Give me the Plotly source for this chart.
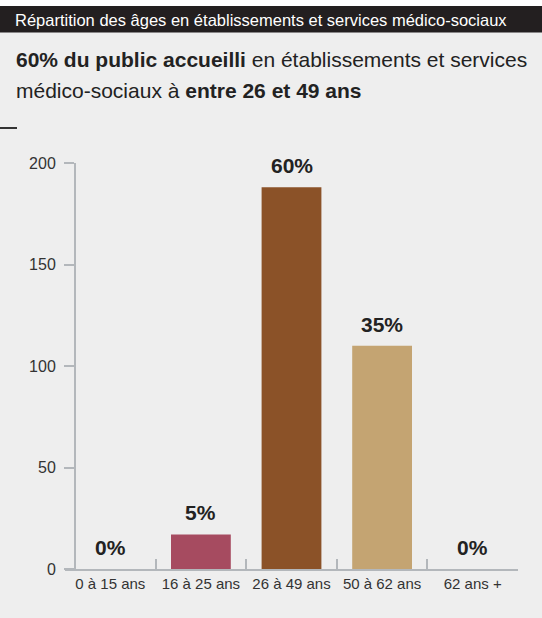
import plotly.graph_objects as go

categories = ["0 à 15 ans", "16 à 25 ans", "26 à 49 ans", "50 à 62 ans", "62 ans +"]
values = [0, 17, 188, 110, 0]
pct_labels = ["0%", "5%", "60%", "35%", "0%"]
bar_colors = ["#a64b60", "#a64b60", "#8b5228", "#c4a472", "#c4a472"]
y_ticks = [0, 50, 100, 150, 200]

header_text = "Répartition des âges en établissements et services médico-sociaux"
title_lines = [
    "<b>60% du public accueilli</b> en établissements et services",
    "médico-sociaux à <b>entre 26 et 49 ans</b>",
]

FONT = "Liberation Sans, Arial, Helvetica, sans-serif"
BG = "#eeeeee"
AXIS = "#b3b7bb"

W, H = 542, 618
ml, mr, mt, mb = 65, 24, 163, 49
plot_w = W - ml - mr
ph = H - mt - mb


def px_x(x):
    return (x - ml) / plot_w


def px_y(y):
    return 1 + (mt - y) / ph


fig = go.Figure()
fig.add_trace(go.Bar(
    x=categories, y=values,
    marker=dict(color=bar_colors, line=dict(width=0)),
    width=0.66,
    hoverinfo="skip",
))

for cat, v, lab in zip(categories, values, pct_labels):
    fig.add_annotation(
        x=cat, y=v, xref="x", yref="y", text=f"<b>{lab}</b>",
        showarrow=False, yanchor="bottom", yshift=8,
        font=dict(family=FONT, size=21, color="#222222"),
    )

# header bar
fig.add_shape(type="rect", xref="paper", yref="paper",
              x0=px_x(0), x1=px_x(W), y0=px_y(32.5), y1=px_y(6),
              fillcolor="#231f20", line=dict(width=0), layer="below")
fig.add_shape(type="rect", xref="paper", yref="paper",
              x0=px_x(0), x1=px_x(W), y0=px_y(6), y1=px_y(0),
              fillcolor="#ffffff", line=dict(width=0), layer="below")
fig.add_annotation(
    xref="paper", yref="paper",
    x=px_x(13), y=px_y(19.5),
    xanchor="left", yanchor="middle", showarrow=False,
    text=header_text,
    font=dict(family=FONT, size=16.5, color="#ffffff"),
)
for i, line in enumerate(title_lines):
    fig.add_annotation(
        xref="paper", yref="paper",
        x=px_x(14), y=px_y(46 + 31 * i),
        xanchor="left", yanchor="top", showarrow=False, align="left",
        text=line,
        font=dict(family=FONT, size=21, color="#222222"),
    )
# small dash
fig.add_shape(type="line", xref="paper", yref="paper",
              x0=px_x(0), x1=px_x(17), y0=px_y(128), y1=px_y(128),
              line=dict(color="#333333", width=2))

fig.update_layout(
    template="none",
    width=W, height=H,
    margin=dict(l=ml, r=mr, t=mt, b=mb, autoexpand=False),
    paper_bgcolor=BG, plot_bgcolor=BG,
    showlegend=False,
    xaxis=dict(
        range=[-0.5, 4.5], automargin=False, tickangle=0,
        showline=True, linecolor=AXIS, linewidth=2,
        ticks="inside", tickson="boundaries", ticklen=10, tickcolor=AXIS, tickwidth=2,
        showgrid=False, zeroline=False,
        tickfont=dict(family=FONT, size=15, color="#333333"),
        fixedrange=True,
    ),
    yaxis=dict(
        range=[0, 200], anchor="free", position=10 / plot_w, automargin=False,
        showline=True, linecolor=AXIS, linewidth=2,
        ticks="outside", ticklen=10, tickcolor=AXIS, tickwidth=2,
        tickvals=y_ticks, showgrid=False, zeroline=False,
        tickfont=dict(family=FONT, size=16, color="#333333"),
        ticklabelstandoff=5,
        fixedrange=True,
    ),
    bargap=0.34,
)

fig.write_html(
    "out.html",
    config={"displayModeBar": False},
    post_script="document.body.style.margin='0px';document.body.style.padding='0px';",
)
